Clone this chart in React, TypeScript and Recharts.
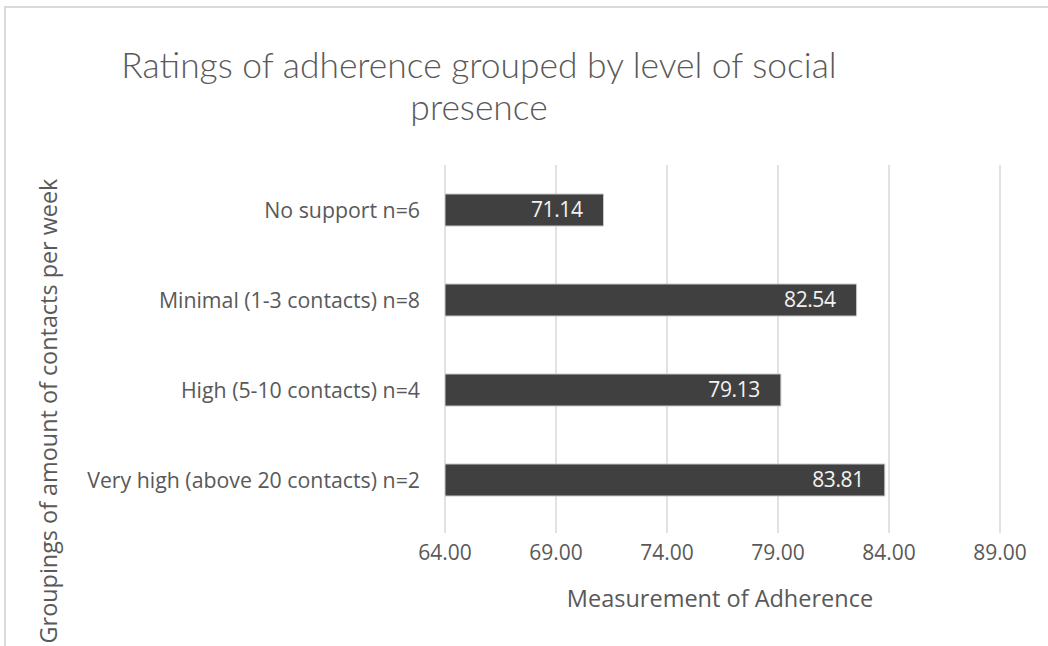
import React from "react";
import { BarChart, Bar, XAxis, YAxis, CartesianGrid, LabelList } from "recharts";

const categories = [
  "No support n=6",
  "Minimal (1-3 contacts) n=8",
  "High (5-10 contacts) n=4",
  "Very high (above 20 contacts) n=2",
];
const adherence = [71.14, 82.54, 79.13, 83.81];
const xTicks = [64, 69, 74, 79, 84, 89];

const chartTitle = ["Ratings of adherence grouped by level of social", "presence"];
const xTitle = "Measurement of Adherence";
const yTitle = "Groupings of amount of contacts per week";

const data = categories.map((name, i) => ({ name, value: adherence[i] }));

const FONT = "'Open Sans', Lato, sans-serif";
const TFONT = "Lato, 'Open Sans', sans-serif";
const TXT = "#595959";

export default function App() {
  return (
    <div style={{ position: "absolute", left: 0, top: 0, width: 1048, height: 646, background: "#fff", fontFamily: FONT }}>
      <div style={{ position: "absolute", left: 4, top: 6, width: 1044, height: 640, borderLeft: "2px solid #d9d9d9", borderTop: "2px solid #d9d9d9" }} />
      <BarChart
        width={1048}
        height={646}
        data={data}
        layout="vertical"
        margin={{ top: 165, right: 48, bottom: 91, left: 0 }}
        barCategoryGap="32%"
      >
        <CartesianGrid horizontal={false} stroke="#d9d9d9" strokeWidth={1.5} />
        <XAxis
          type="number"
          domain={[64, 89]}
          ticks={xTicks}
          allowDataOverflow
          tickFormatter={(v: number) => v.toFixed(2)}
          axisLine={false}
          tickLine={{ stroke: "#d9d9d9", strokeWidth: 1.5 }}
          tickSize={8}
          tickMargin={12}
          height={30}
          tick={{ fontSize: 21, fill: TXT, fontFamily: FONT }}
        />
        <YAxis
          type="category"
          dataKey="name"
          width={445}
          axisLine={false}
          tickLine={false}
          tickSize={0}
          tickMargin={25}
          tick={{ fontSize: 21.3, fill: TXT, fontFamily: FONT }}
        />
        <Bar dataKey="value" fill="#404040" stroke="#c8c8c8" strokeWidth={1} barSize={32} isAnimationActive={false}>
          <LabelList
            dataKey="value"
            position="insideRight"
            offset={21}
            formatter={(v: number) => v.toFixed(2)}
            style={{ fill: "#f2f2f2", fontSize: 21, fontFamily: FONT, letterSpacing: "-0.4px" }}
          />
        </Bar>
      </BarChart>
      <div style={{ position: "absolute", left: 0, width: 958, top: 44, textAlign: "center", fontFamily: TFONT, fontSize: 35.4, fontWeight: 300, color: TXT, lineHeight: "42px", whiteSpace: "nowrap" }}>
        {chartTitle[0]}
        <br />
        {chartTitle[1]}
      </div>
      <div style={{ position: "absolute", left: 520, width: 400, top: 584, textAlign: "center", fontSize: 23.5, color: TXT, lineHeight: "28px" }}>
        {xTitle}
      </div>
      <div
        style={{
          position: "absolute",
          left: 48 - 260,
          top: 411 - 14,
          width: 520,
          height: 28,
          lineHeight: "28px",
          textAlign: "center",
          fontSize: 23.4,
          color: TXT,
          transform: "rotate(-90deg)",
          whiteSpace: "nowrap",
        }}
      >
        {yTitle}
      </div>
    </div>
  );
}
